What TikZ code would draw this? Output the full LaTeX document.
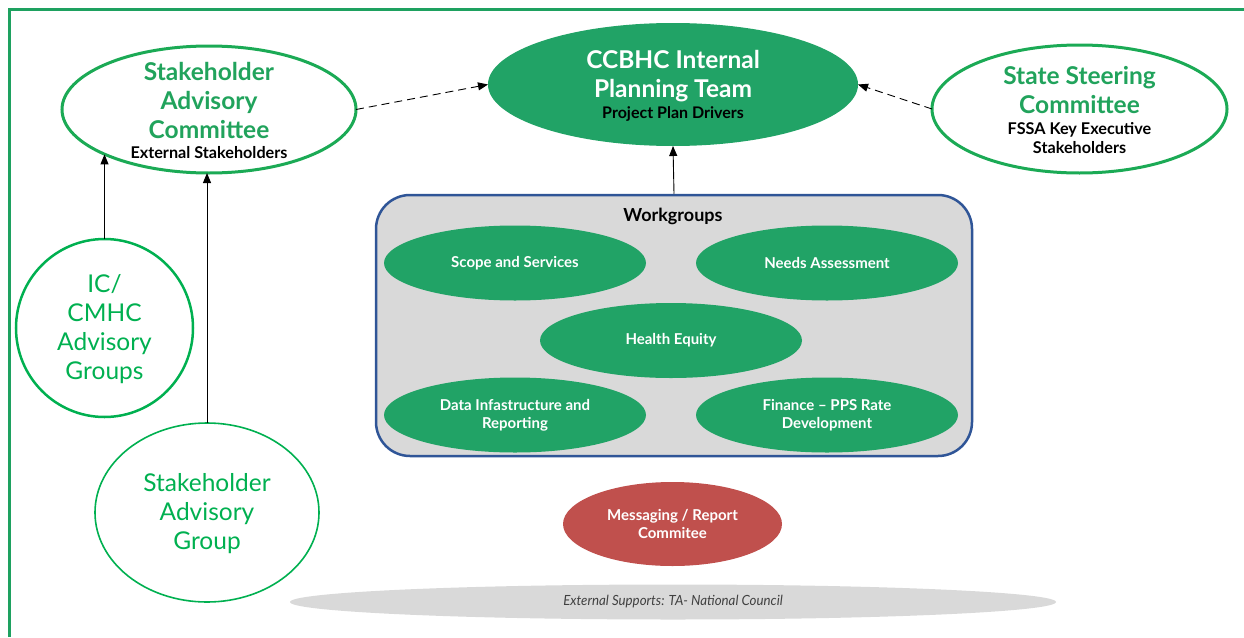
\documentclass[tikz,border=0pt]{standalone}
\usepackage{fontspec}
\setmainfont{Lato}
\newfontfamily\condfont[FakeStretch=0.95]{Lato}
\usetikzlibrary{shapes.geometric,arrows.meta}
\definecolor{framegreen}{RGB}{30,161,96}
\definecolor{fillgreen}{RGB}{33,163,102}
\definecolor{linegreen}{RGB}{27,170,85}
\definecolor{textgreen}{RGB}{33,163,92}
\definecolor{brightgreen}{RGB}{0,176,80}
\definecolor{redfill}{RGB}{192,80,77}
\definecolor{wgblue}{RGB}{47,85,151}
\definecolor{lightgray}{RGB}{217,217,217}
\definecolor{darktext}{RGB}{64,64,64}
\tikzset{
  ell/.style={ellipse, inner sep=0pt, outer sep=0pt},
  bigbold/.style={font=\fontsize{24.5}{29}\selectfont\bfseries, align=center, inner sep=0pt},
  bigreg/.style={font=\fontsize{24.5}{29}\selectfont, align=center, inner sep=0pt, text=brightgreen},
  smallbold/.style={font=\fontsize{16.2}{19}\selectfont\bfseries, align=center, inner sep=0pt, text=black},
  wgtext/.style={font=\fontsize{15}{18}\selectfont\bfseries, align=center, inner sep=0pt, text=white},
  wgell/.style={ell, fill=fillgreen, minimum width=262pt, minimum height=75pt},
  arr/.style={-{Triangle[length=10pt,width=8pt]}, line width=0.9pt, draw=black},
  dasharr/.style={arr, dash pattern=on 8pt off 5pt},
}
\begin{document}
\begin{tikzpicture}[x=1pt,y=-1pt]
\useasboundingbox (0,0) rectangle (1244,637);
% frame
\draw[framegreen, line width=3pt] (9,637) -- (9,9) -- (1244,9);

% top ellipses
\node[ell, draw=linegreen, line width=3pt, minimum width=294pt, minimum height=127pt] (sac) at (209,109.5) {};
\node[bigbold, text=textgreen] (sact) at (209,100) {Stakeholder\\Advisory\\Committee};
\node[smallbold] (sacs) at (209,153) {External Stakeholders};

\node[ell, fill=fillgreen, minimum width=370pt, minimum height=123pt] (cc) at (673,84.5) {};
\node[bigbold, text=white] (cct) at (673,76) {CCBHC Internal\\Planning Team};
\node[smallbold, font=\fontsize{16}{19}\selectfont\bfseries] (ccs) at (673,114) {Project Plan Drivers};

\node[ell, draw=linegreen, line width=3pt, minimum width=295pt, minimum height=128pt] (ssc) at (1079.5,109) {};
\node[bigbold, text=textgreen] (ssct) at (1079.5,90.5) {State Steering\\Committee};
\node[smallbold] (sscs) at (1079.5,138.5) {FSSA Key Executive\\Stakeholders};

% left circles
\node[ell, draw=brightgreen, line width=2.5pt, minimum width=177pt, minimum height=178pt] (ic) at (104.5,328) {};
\node[bigreg] (ict) at (104.5,329) {IC/\\CMHC\\Advisory\\Groups};

\node[ell, draw=brightgreen, line width=1.6pt, minimum width=224pt, minimum height=179pt] (sag) at (207,512.5) {};
\node[bigreg] (sagt) at (207,514) {Stakeholder\\Advisory\\Group};

% workgroups
\node[draw=wgblue, line width=2.5pt, fill=lightgray, rounded corners=34pt, minimum width=596pt, minimum height=261pt, inner sep=0pt] (wg) at (674,325.5) {};
\node[font=\fontsize{18}{20}\selectfont\bfseries, inner sep=0pt] (wgt) at (673,216) {Workgroups};
\node[wgell] (w1) at (515,263) {};
\node[wgtext] at (w1.center) {Scope and Services};
\node[wgell] (w2) at (827,263) {};
\node[wgtext] at (w2.center) {Needs Assessment};
\node[wgell] (w3) at (671,340.5) {};
\node[wgtext] at (w3.center) {Health Equity};
\node[wgell] (w4) at (515,415) {};
\node[wgtext] at (w4.center) {Data Infastructure and\\Reporting};
\node[wgell] (w5) at (827,415) {};
\node[wgtext] at (w5.center) {Finance – PPS Rate\\Development};

% messaging
\node[ell, fill=redfill, minimum width=219pt, minimum height=84pt] (msg) at (672.5,524) {};
\node[wgtext] at (msg.center) {Messaging / Report\\Commitee};

% external supports
\node[ell, fill=lightgray, minimum width=766pt, minimum height=35pt] (ext) at (673,602) {};
\node[font=\condfont\fontsize{14}{16}\selectfont\itshape, text=darktext, inner sep=0pt] at (ext.center) {External Supports: TA- National Council};

% connectors
\draw[dasharr] (sac.east) -- (cc.west);
\draw[dasharr] (ssc.west) -- (cc.east);
\draw[arr] (wg.north) -- (cc.south);
\draw[arr] (ic.north) -- (ic.north |- sac.south west);
\draw[arr] (sag.north) -- (sag.north |- sac.south);
\end{tikzpicture}
\end{document}
